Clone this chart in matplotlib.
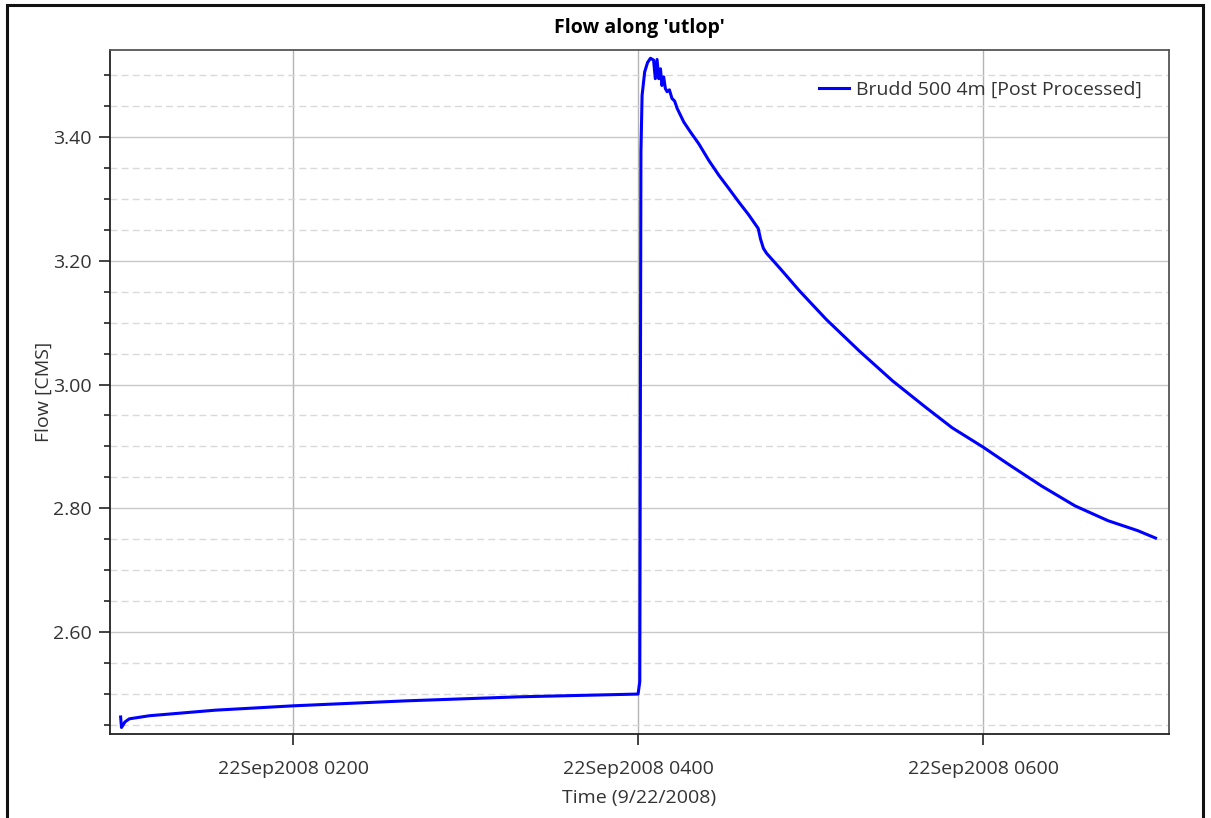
import matplotlib

matplotlib.use("Agg")
import matplotlib.pyplot as plt
import matplotlib.dates as mdates
from matplotlib.patches import Rectangle
from matplotlib.ticker import MultipleLocator
import pandas as pd

plt.rcParams["font.family"] = ["Open Sans", "DejaVu Sans"]

# minutes after midnight, 22 Sep 2008
minutes = [
    60.0, 60.3, 61.5, 63.0, 70.0, 93.0, 120.0, 159.0, 199.0, 240.0,
    240.6, 241.0, 241.4, 242.3, 243.3, 244.3, 245.4, 246.0, 246.6, 247.2,
    247.8, 248.3, 248.9, 249.5, 250.1, 250.9, 251.8, 252.7, 253.6, 255.9,
    258.2, 261.1, 264.6, 268.1, 271.5, 275.0, 278.5, 281.8, 282.6, 283.6,
    284.7, 289.3, 296.2, 305.5, 317.0, 328.5, 340.1, 349.3, 360.0, 368.9,
    380.4, 392.0, 403.5, 413.8, 420.0,
]
flow = [
    2.463, 2.446, 2.455, 2.460, 2.465, 2.474, 2.481, 2.489, 2.4956, 2.500,
    2.520, 3.376, 3.467, 3.505, 3.520, 3.527, 3.524, 3.494, 3.525, 3.494,
    3.510, 3.483, 3.497, 3.478, 3.473, 3.476, 3.462, 3.458, 3.446, 3.424,
    3.408, 3.389, 3.362, 3.338, 3.317, 3.295, 3.274, 3.252, 3.235, 3.220,
    3.212, 3.188, 3.151, 3.105, 3.054, 3.006, 2.963, 2.930, 2.899, 2.871,
    2.836, 2.804, 2.780, 2.764, 2.752,
]
series_label = "Brudd 500 4m [Post Processed]"
day = pd.Timestamp("2008-09-22")

times = [day + pd.Timedelta(minutes=m) for m in minutes]

fig = plt.figure(figsize=(12.11, 8.18), dpi=100)
ax = fig.add_axes([110 / 1211, 1 - 734 / 818, 1059 / 1211, 684 / 818])

ax.plot(times, flow, color="#0000ff", linewidth=2.2, label=series_label)

ax.set_xlim(day + pd.Timedelta(minutes=56.3), day + pd.Timedelta(minutes=424.7))
ax.set_ylim(2.4355, 3.5403)

ax.xaxis.set_major_locator(mdates.HourLocator(byhour=[2, 4, 6]))
ax.xaxis.set_major_formatter(mdates.DateFormatter("%d%b%Y %H%M"))
ax.yaxis.set_major_locator(MultipleLocator(0.2))
ax.yaxis.set_minor_locator(MultipleLocator(0.05))
ax.yaxis.set_major_formatter(plt.FormatStrFormatter("%.2f"))

ax.grid(True, which="major", axis="y", color="#c8c8c8", linewidth=1.0)
ax.grid(True, which="minor", axis="y", color="#d9d9d9", linewidth=1.0, linestyle=(0, (5, 3)))
ax.grid(True, which="major", axis="x", color="#b4b4b4", linewidth=1.0)
ax.set_axisbelow(True)

ax.tick_params(axis="both", which="major", length=8, width=1.2, color="#222222",
               labelsize=14, labelcolor="#333333")
ax.tick_params(axis="x", which="major", pad=11)
ax.tick_params(axis="y", which="major", pad=5)
ax.tick_params(axis="y", which="minor", length=4, width=1.2, color="#222222")
for side in ["left", "bottom"]:
    ax.spines[side].set_color("#222222")
    ax.spines[side].set_linewidth(1.3)
for side in ["top", "right"]:
    ax.spines[side].set_color("#555555")
    ax.spines[side].set_linewidth(1.3)

ax.set_title("Flow along 'utlop'", fontsize=14, fontweight="bold", pad=12)
ax.set_xlabel("Time (9/22/2008)", fontsize=14, color="#333333", labelpad=8)
ax.set_ylabel("Flow [CMS]", fontsize=14, color="#333333", labelpad=0)

ax.legend(loc="upper right", frameon=False, fontsize=14, handlelength=1.5,
          handletextpad=0.4, borderaxespad=0.0, labelcolor="#333333",
          bbox_to_anchor=(0.982, 0.967))

fig.patches.append(Rectangle((7 / 1211, -0.05), 1196 / 1211, 1.05 - 5 / 818,
                             transform=fig.transFigure, fill=False,
                             edgecolor="#111111", linewidth=2.2))

fig.savefig("out.png", dpi=100)
